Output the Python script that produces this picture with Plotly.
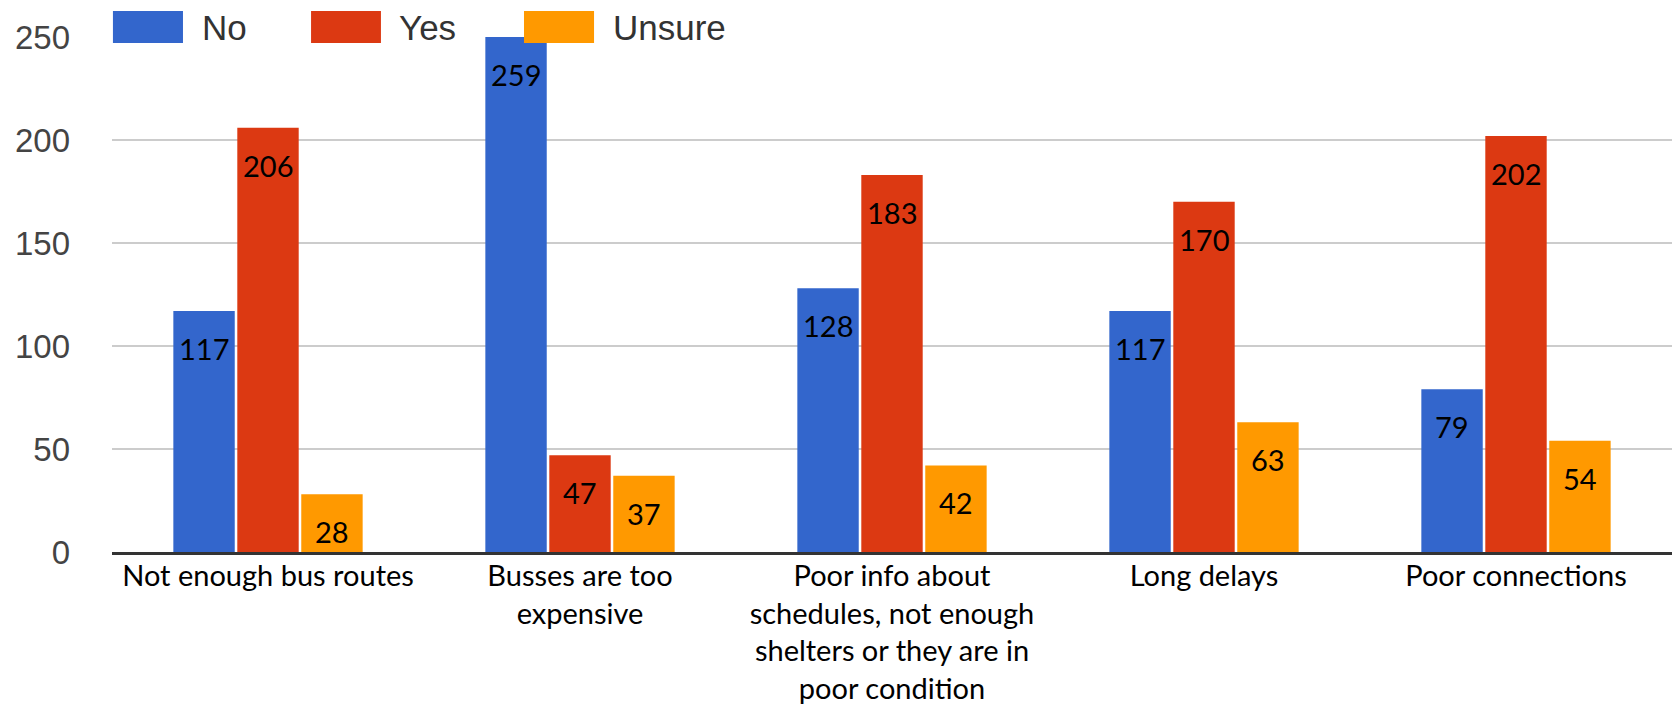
import plotly.graph_objects as go

categories = [
    "Not enough bus routes",
    "Busses are too<br>expensive",
    "Poor info about<br>schedules, not enough<br>shelters or they are in<br>poor condition",
    "Long delays",
    "Poor connections",
]
series_names = ["No", "Yes", "Unsure"]
no_values = [117, 259, 128, 117, 79]
yes_values = [206, 47, 183, 170, 202]
unsure_values = [28, 37, 42, 63, 54]
y_ticks = [0, 50, 100, 150, 200, 250]

colors = ["#3366CC", "#DC3912", "#FF9900"]
series_values = [no_values, yes_values, unsure_values]

Y_MAX = 250
BARGAP = 0.385
BARGROUPGAP = 0.04

fig = go.Figure()
for name, vals, col in zip(series_names, series_values, colors):
    fig.add_trace(go.Bar(
        x=categories, y=vals, name=name,
        marker=dict(color=col, line=dict(width=0)),
        textposition="none", showlegend=False,
    ))

# data labels positioned via axis coordinates (category index + group offset)
bar_w = (1 - BARGAP) / len(series_names)
annotations = []
for k, vals in enumerate(series_values):
    for i, v in enumerate(vals):
        annotations.append(dict(
            x=i + (k - 1) * bar_w, y=min(v, Y_MAX), xref="x", yref="y",
            text=str(v), showarrow=False, yanchor="top", xanchor="center",
            yshift=-18, font=dict(family="Lato", size=29, color="#000000"),
        ))

# custom legend (large swatches like the reference)
legend_box_x = [(0.0006, 0.0455), (0.1276, 0.1724), (0.2641, 0.3090)]
legend_text_x = [0.0564, 0.1827, 0.3199]
shapes = []
for (x0, x1), tx, name, col in zip(legend_box_x, legend_text_x, series_names, colors):
    shapes.append(dict(type="rect", xref="paper", yref="paper",
                       x0=x0, x1=x1, y0=0.9883, y1=1.0505,
                       fillcolor=col, line=dict(width=0), layer="above"))
    annotations.append(dict(x=tx, y=1.0194, xref="paper", yref="paper",
                            text=name, showarrow=False, xanchor="left", yanchor="middle",
                            font=dict(family="Liberation Sans", size=35, color="#333333")))

fig.update_layout(
    width=1672, height=709,
    margin=dict(l=112, r=0, t=37, b=157, autoexpand=False),
    paper_bgcolor="white", plot_bgcolor="white",
    barmode="group", bargap=BARGAP, bargroupgap=BARGROUPGAP,
    showlegend=False,
    annotations=annotations, shapes=shapes,
    xaxis=dict(
        automargin=False,
        showgrid=False, showline=True, linecolor="#333333", linewidth=3,
        ticks="", tickfont=dict(family="Lato", size=29, color="#000000"),
        ticklabelstandoff=-4,
    ),
    yaxis=dict(
        automargin=False,
        range=[0, Y_MAX], tickvals=y_ticks,
        showgrid=True, gridcolor="#cccccc", gridwidth=2,
        zeroline=False, ticks="",
        tickfont=dict(family="Liberation Sans", size=33, color="#444444"),
        ticklabelstandoff=41,
    ),
)

fig.write_html(
    "out.html",
    config={"displayModeBar": False},
    post_script="document.body.style.margin='0';document.body.style.overflow='hidden';",
)
